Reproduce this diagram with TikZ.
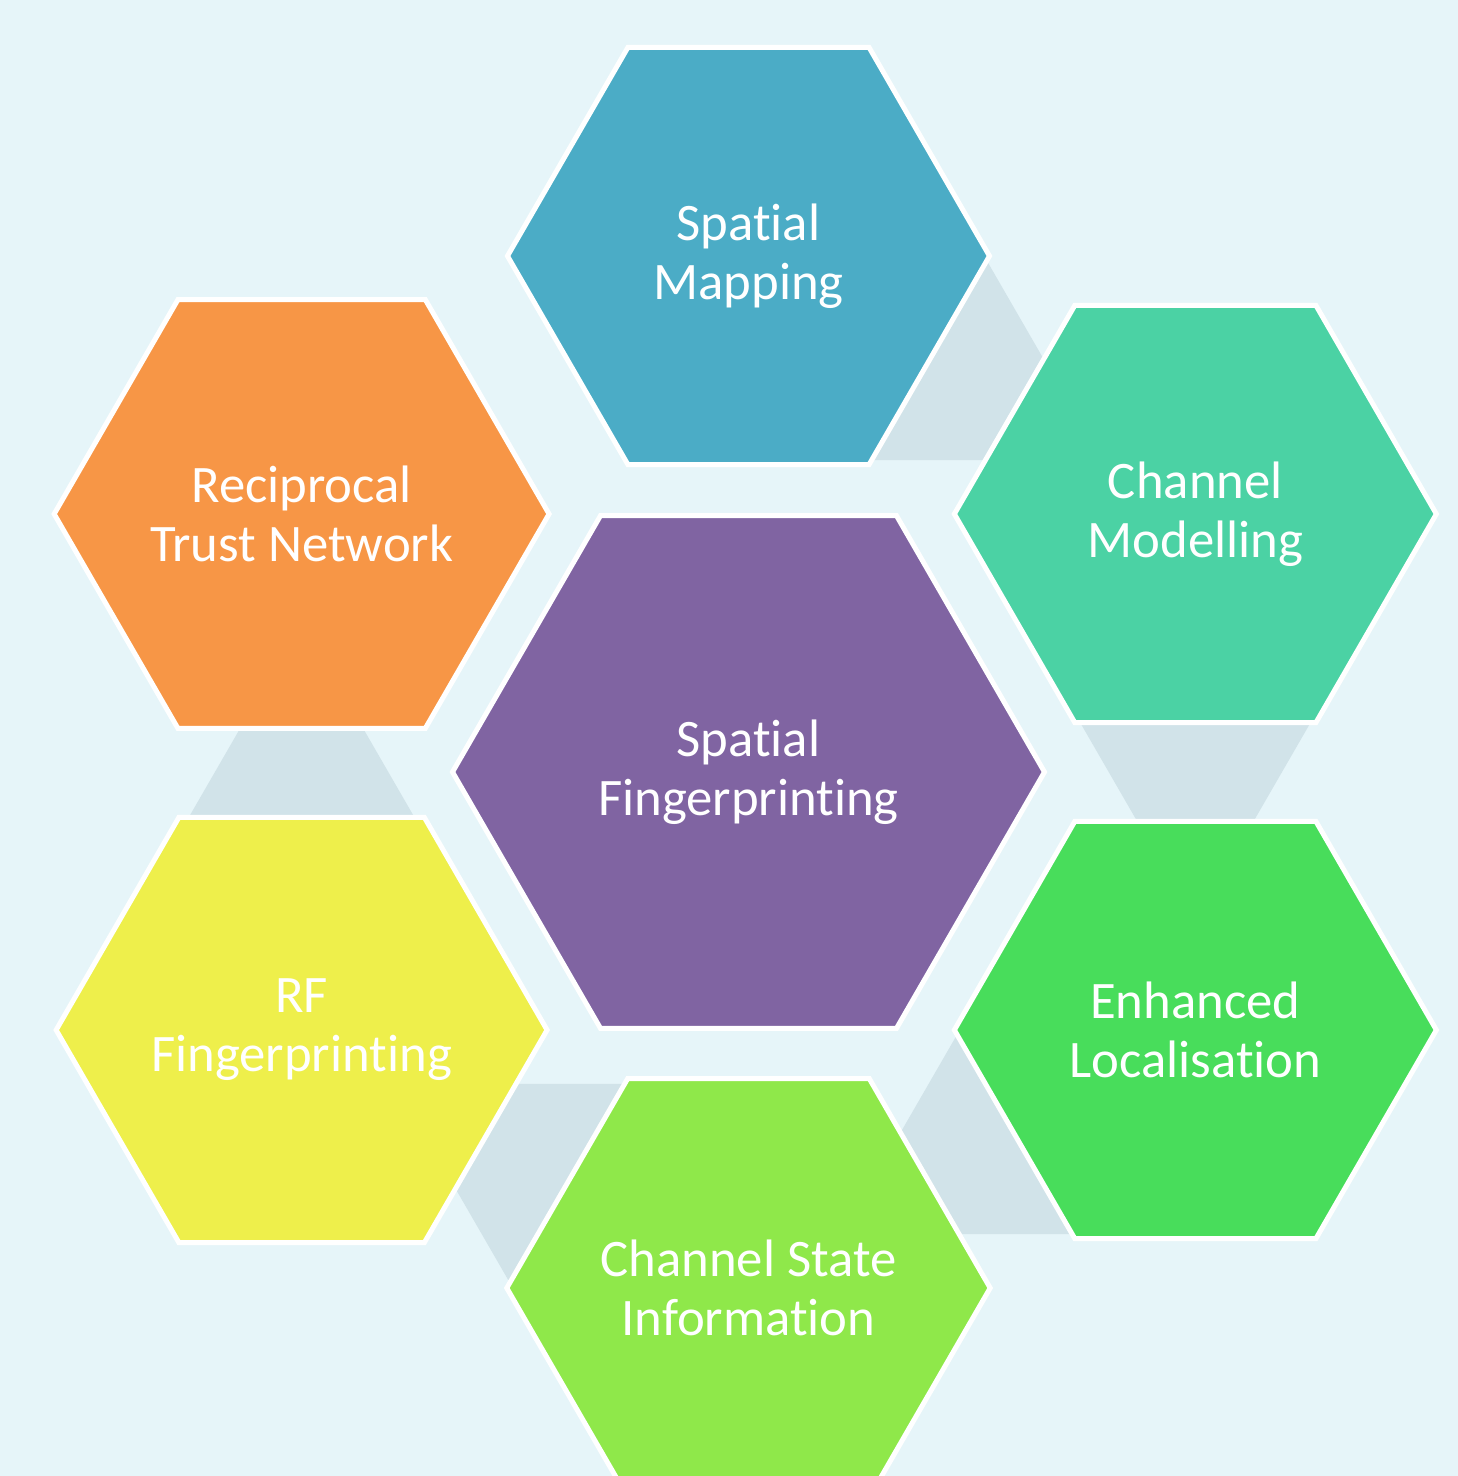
\documentclass[tikz,border=0pt]{standalone}
\usepackage{fontspec}
\setmainfont{Carlito}[Ligatures={NoCommon,NoContextual}, RawFeature={-liga;-clig;-calt;-dlig}]
\usetikzlibrary{calc}
\usetikzlibrary{shapes.geometric}
\definecolor{FondHex}{HTML}{E6F5F9}
\definecolor{GrisPont}{HTML}{D1E3E9}
\definecolor{VioletHex}{HTML}{8064A2}
\definecolor{BleuHex}{HTML}{4BACC6}
\definecolor{TurquoiseHex}{HTML}{4BD2A4}
\definecolor{VertHex}{HTML}{48DD5B}
\definecolor{VertClairHex}{HTML}{8FE84A}
\definecolor{JauneHex}{HTML}{EEEF4B}
\definecolor{OrangeHex}{HTML}{F79646}
\tikzstyle{hexagone}     =[regular polygon, regular polygon sides=6, minimum size=9.64cm, inner sep=0pt, draw=white, line width=0.1cm, text=white, align=center, font=\fontsize{30}{33.5}\selectfont]
\tikzstyle{grandhexagone}=[hexagone, minimum size=11.84cm]
\tikzstyle{pont}         =[regular polygon, regular polygon sides=6, minimum size=4.76cm, inner sep=0pt, fill=GrisPont]

\begin{document}
\begin{tikzpicture}
 \clip (-14.97,-14.08) rectangle (14.19,15.44);
 \fill[FondHex] (-14.97,-14.08) rectangle (14.19,15.44);
 \coordinate (pSM) at (90:10.32);
 \coordinate (pCM) at (30:10.32);
 \coordinate (pEL) at (-30:10.32);
 \coordinate (pCSI) at (-90:10.32);
 \coordinate (pRF) at (-150:10.32);
 \coordinate (pRTN) at (150:10.32);
 % ponts entre les hexagones
 \node[pont] (sm-cm) at ($(pSM)!4.04cm!(pCM)$) {};
 \node[pont] (cm-el) at ($(pCM)!4.04cm!(pEL)$) {};
 \node[pont] (el-csi) at ($(pEL)!4.04cm!(pCSI)$) {};
 \node[pont] (csi-rf) at ($(pCSI)!4.04cm!(pRF)$) {};
 \node[pont] (rf-rtn) at ($(pRF)!4.04cm!(pRTN)$) {};
 % hexagones
 \node[grandhexagone, fill=VioletHex] (centre) at (0,0) {Spatial\\Fingerprinting};
 \node[hexagone, fill=BleuHex] (sm) at (pSM) {Spatial\\Mapping};
 \node[hexagone, fill=TurquoiseHex] (cm) at (pCM) {Channel\\Modelling};
 \node[hexagone, fill=VertHex] (el) at (pEL) {Enhanced\\Localisation};
 \node[hexagone, fill=VertClairHex] (csi) at (pCSI) {Channel State\\Information};
 \node[hexagone, fill=JauneHex] (rf) at (pRF) {RF\\Fingerprinting};
 \node[hexagone, fill=OrangeHex] (rtn) at (pRTN) {Reciprocal\\Trust Network};
\end{tikzpicture}
\end{document}
